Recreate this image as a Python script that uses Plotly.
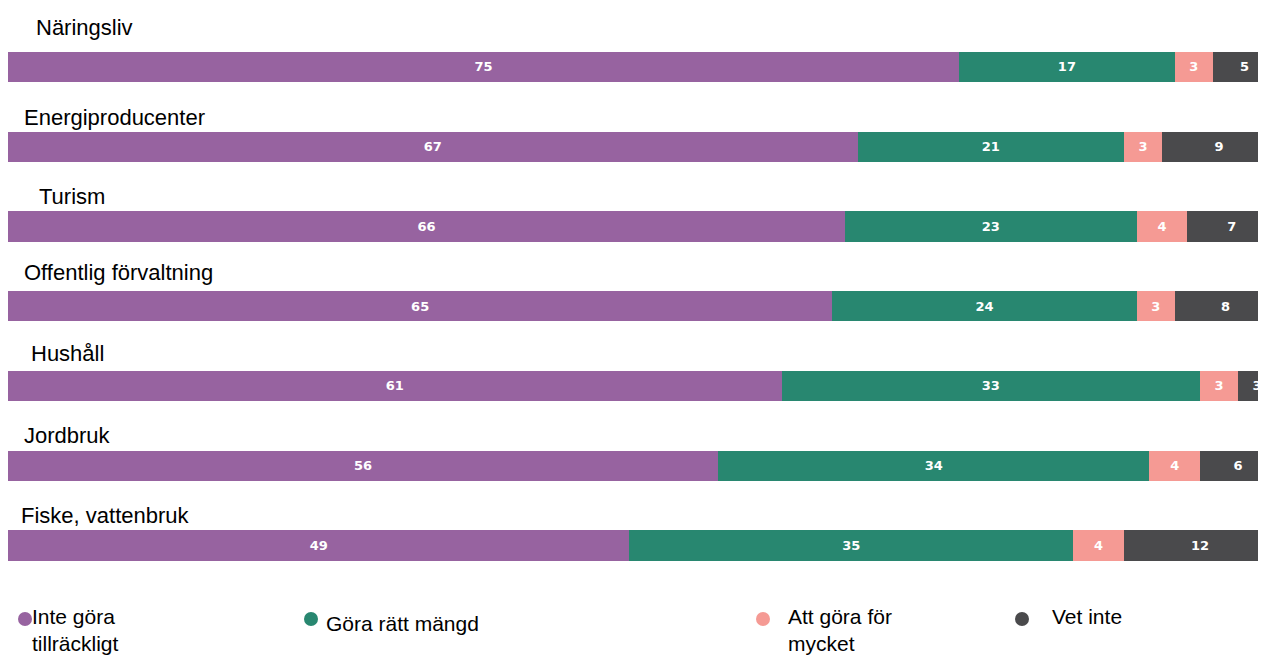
import plotly.graph_objects as go

# data
sectors = ["Näringsliv", "Energiproducenter", "Turism", "Offentlig förvaltning",
           "Hushåll", "Jordbruk", "Fiske, vattenbruk"]
inte_tillrackligt = [75, 67, 66, 65, 61, 56, 49]
ratt_mangd = [17, 21, 23, 24, 33, 34, 35]
for_mycket = [3, 3, 4, 3, 3, 4, 4]
vet_inte = [5, 9, 7, 8, 3, 6, 12]

series = [
    ("Inte göra<br>tillräckligt", inte_tillrackligt, "#9763A0"),
    ("Göra rätt mängd", ratt_mangd, "#288770"),
    ("Att göra för<br>mycket", for_mycket, "#F59A94"),
    ("Vet inte", vet_inte, "#4A4A4C"),
]

# label placement (pixels), one per sector
label_x = [37, 25, 40, 25, 32, 25, 22]
label_up = [39, 29, 30, 34, 32, 30, 30]

fig = go.Figure()
for name, vals, col in series:
    fig.add_trace(go.Bar(
        y=sectors, x=vals, name=name, orientation="h",
        marker=dict(color=col, line=dict(width=0)),
        text=vals, textposition="inside", insidetextanchor="middle",
        textfont=dict(color="white", size=13, family="DejaVu Sans"),
        texttemplate="<b>%{text}</b>", textangle=0,
        constraintext="none",
        showlegend=False,
    ))

for s, lx, up in zip(sectors, label_x, label_up):
    fig.add_annotation(
        xref="paper", yref="y", x=0, y=s, xshift=lx - 11, yshift=up,
        xanchor="left", yanchor="middle", text=s, showarrow=False,
        font=dict(size=22, color="black", family="Liberation Sans, Arial"),
    )

# manual legend (marker x, text x, text top y) in page pixels
legend_pos = [(25, 32, 603), (311, 326, 610), (763, 788, 603), (1022, 1052, 603)]
for (name, vals, col), (mx, tx, ty) in zip(series, legend_pos):
    fig.add_shape(
        type="circle", xref="paper", yref="paper",
        x0=(mx - 8 - 7) / 1258, x1=(mx - 8 + 7) / 1258,
        y0=-(619 - 590 + 7) / 563, y1=-(619 - 590 - 7) / 563,
        fillcolor=col, line=dict(width=0),
    )
    fig.add_annotation(
        xref="paper", yref="paper", x=(tx - 10) / 1258, y=-(ty - 590) / 563,
        xanchor="left", yanchor="top", align="left", text=name, showarrow=False,
        font=dict(size=21, color="black", family="Liberation Sans, Arial"),
    )

# page body adds an 8px offset, so the figure is 8px smaller than the window
fig.update_layout(
    barmode="stack",
    width=1258, height=647,
    margin=dict(l=0, r=0, t=19, b=65, autoexpand=False),
    paper_bgcolor="white", plot_bgcolor="white",
    bargap=0.62,
    uniformtext=dict(minsize=8, mode="show"),
)
# bars run slightly past the right edge in the original
fig.update_xaxes(range=[0, 99.2], visible=False)
fig.update_yaxes(autorange="reversed", visible=False)

fig.write_html("out.html")
